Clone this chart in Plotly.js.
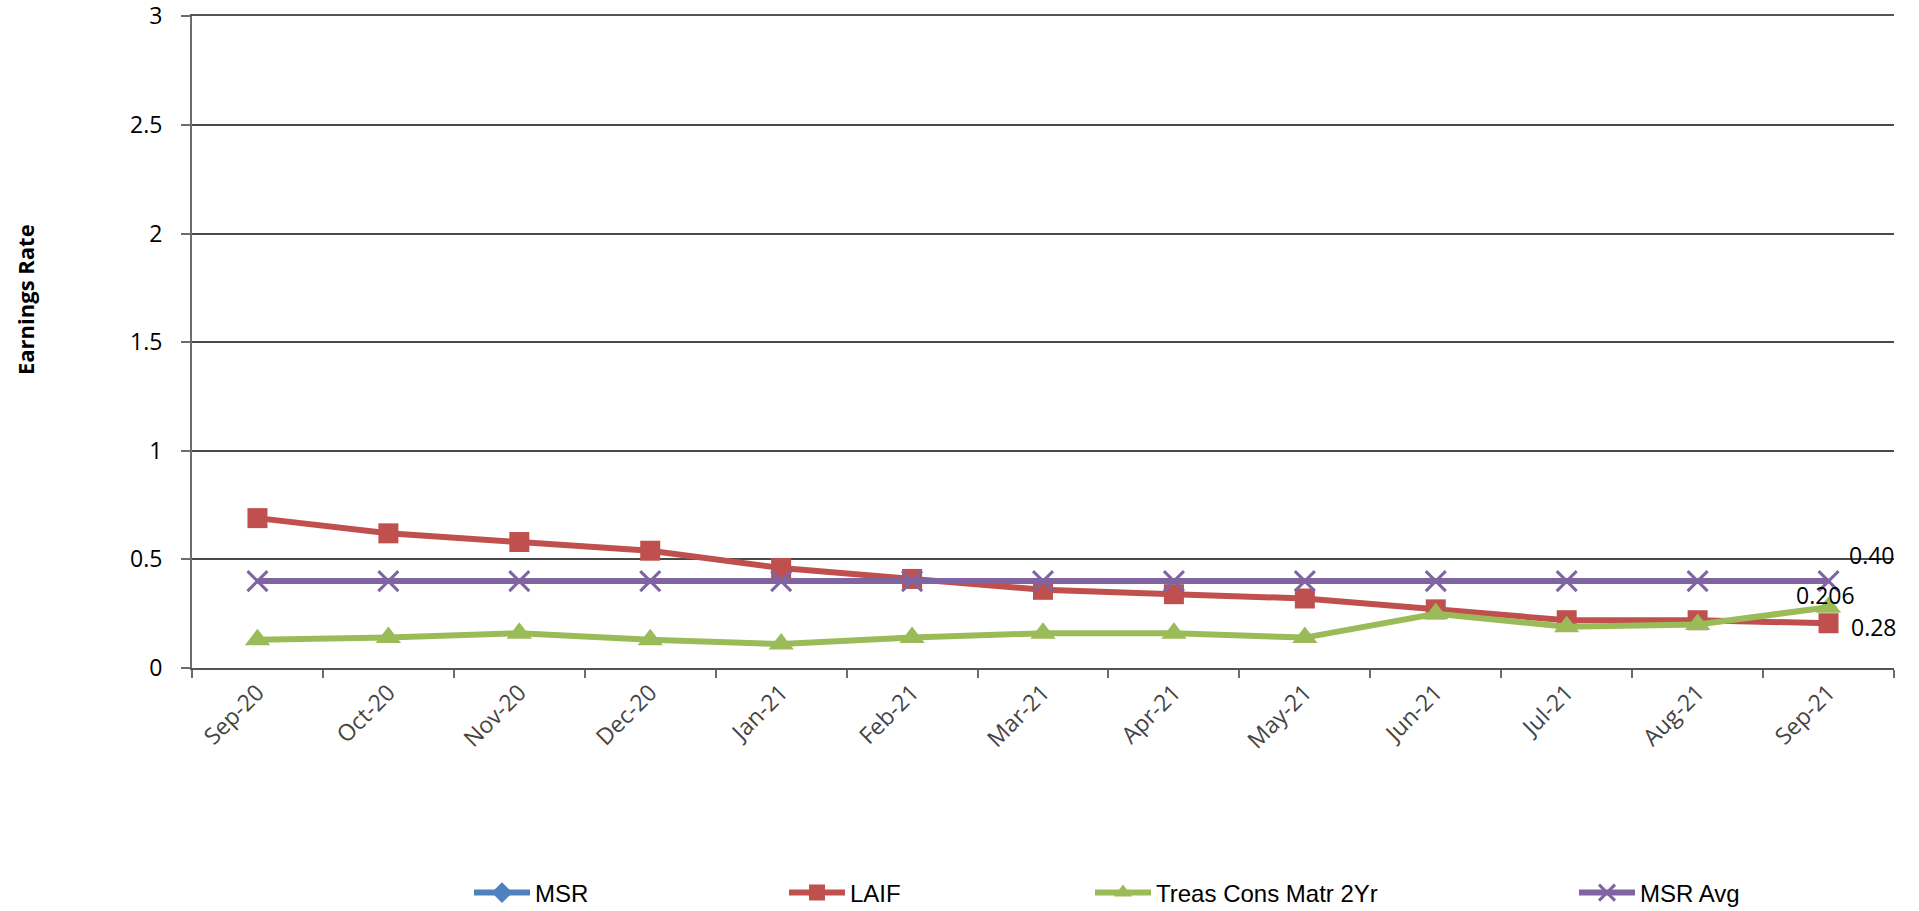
<!DOCTYPE html>
<html>
<head>
<meta charset="utf-8">
<script src="https://cdn.plot.ly/plotly-3.0.1.min.js"></script>
<style>
html,body{margin:0;padding:0;background:#fff;}
#chart{width:1919px;height:911px;}
</style>
</head>
<body>
<div id="chart"></div>
<script>
const months = ["Sep-20","Oct-20","Nov-20","Dec-20","Jan-21","Feb-21","Mar-21","Apr-21","May-21","Jun-21","Jul-21","Aug-21","Sep-21"];
const msr = [null,null,null,null,null,null,null,null,null,null,null,null,null];
const laif = [0.69,0.62,0.58,0.54,0.46,0.41,0.36,0.34,0.32,0.27,0.22,0.22,0.206];
const treas = [0.13,0.14,0.16,0.13,0.11,0.14,0.16,0.16,0.14,0.25,0.19,0.20,0.28];
const msrAvg = [0.40,0.40,0.40,0.40,0.40,0.40,0.40,0.40,0.40,0.40,0.40,0.40,0.40];
const yTicks = [0,0.5,1,1.5,2,2.5,3];
const yTickText = ["0","0.5","1","1.5","2","2.5","3"];

const L = 192, R = 25, T = 16, B = 243;
const W = 1919, H = 911;
const pw = W - L - R, ph = H - T - B;
const px2x = p => (p - L) / pw;
const py2y = p => (H - B - p) / ph;

const legFont = {family:"Liberation Sans, Arial, sans-serif", size:24, color:"#000"};
const legY = py2y(893);
const itemW = 56;
function leg(textStart){
  return {x: px2x(textStart - itemW - 8), xanchor:"left", y: legY, yanchor:"middle",
          orientation:"h", font: legFont, bgcolor:"rgba(0,0,0,0)", itemwidth:itemW, borderwidth:0};
}

const last = months.length - 1;
const traces = [
  {name:"MSR", x:months, y:msr, type:"scatter", mode:"lines+markers", legend:"legend",
   line:{color:"#4F81BD", width:6}, marker:{symbol:"diamond", size:18, color:"#4F81BD"}},
  {name:"LAIF", x:months, y:laif, type:"scatter", mode:"lines+markers", legend:"legend2",
   line:{color:"#C0504D", width:6}, marker:{symbol:"square", size:20, color:"#C0504D"}},
  {name:"Treas Cons Matr 2Yr", x:months, y:treas, type:"scatter", mode:"lines+markers", legend:"legend3",
   line:{color:"#9BBB59", width:6}, marker:{symbol:"triangle-up", size:22, color:"#9BBB59"}},
  {name:"MSR Avg", x:months, y:msrAvg, type:"scatter", mode:"lines+markers", legend:"legend4",
   line:{color:"#8064A2", width:6}, marker:{symbol:"x-thin", size:20, line:{color:"#8064A2", width:3}, color:"#8064A2"}}
];

const annFont = {family:"Open Sans, sans-serif", size:23, color:"#000"};
const layout = {
  width:W, height:H,
  margin:{l:L, r:R, t:T, b:B, pad:0, autoexpand:false},
  paper_bgcolor:"#fff", plot_bgcolor:"#fff",
  showlegend:true,
  legend: leg(533),
  legend2: leg(848),
  legend3: leg(1154),
  legend4: leg(1638),
  xaxis:{type:"category", categoryarray:months, range:[-0.5, 12.5], tickson:"boundaries",
    ticks:"outside", ticklen:8, tickwidth:2, tickcolor:"#6d6d6d", automargin:false,
    showline:true, mirror:true, linecolor:"#555555", linewidth:2, showgrid:false, zeroline:false,
    tickangle:-45, tickfont:{family:"Open Sans, sans-serif", size:23, color:"#444444"}, fixedrange:true},
  yaxis:{range:[0,3.002], tickvals:yTicks, ticktext:yTickText, ticks:"outside", ticklen:9, tickwidth:2,
    tickcolor:"#6d6d6d", showline:true, linecolor:"#6d6d6d", linewidth:2, automargin:false,
    showgrid:true, gridcolor:"#4a4a4a", gridwidth:2, zeroline:false, ticklabelstandoff:14,
    ticklabeloverflow:"allow",
    tickfont:{family:"Open Sans, sans-serif", size:23, color:"#000"}},
  annotations:[
    {text:"Earnings Rate", textangle:-90, xref:"paper", yref:"paper", x:px2x(25), y:py2y(300),
     xanchor:"center", yanchor:"middle", showarrow:false,
     font:{family:"Open Sans, sans-serif", size:22, color:"#000", weight:"bold"}},
    {text:msrAvg[last].toFixed(2), x:months[last], y:msrAvg[last], xref:"x", yref:"y",
     xanchor:"left", yanchor:"middle", xshift:18, yshift:26, showarrow:false, font:annFont},
    {text:String(laif[last]), x:months[last], y:treas[last], xref:"x", yref:"y",
     xanchor:"center", yanchor:"middle", xshift:-3, yshift:12, showarrow:false, font:annFont},
    {text:treas[last].toFixed(2), x:months[last], y:laif[last], xref:"x", yref:"y",
     xanchor:"left", yanchor:"middle", xshift:20, yshift:-4, showarrow:false, font:annFont}
  ]
};

Plotly.newPlot("chart", traces, layout, {displayModeBar:false, staticPlot:true});
</script>
</body>
</html>
